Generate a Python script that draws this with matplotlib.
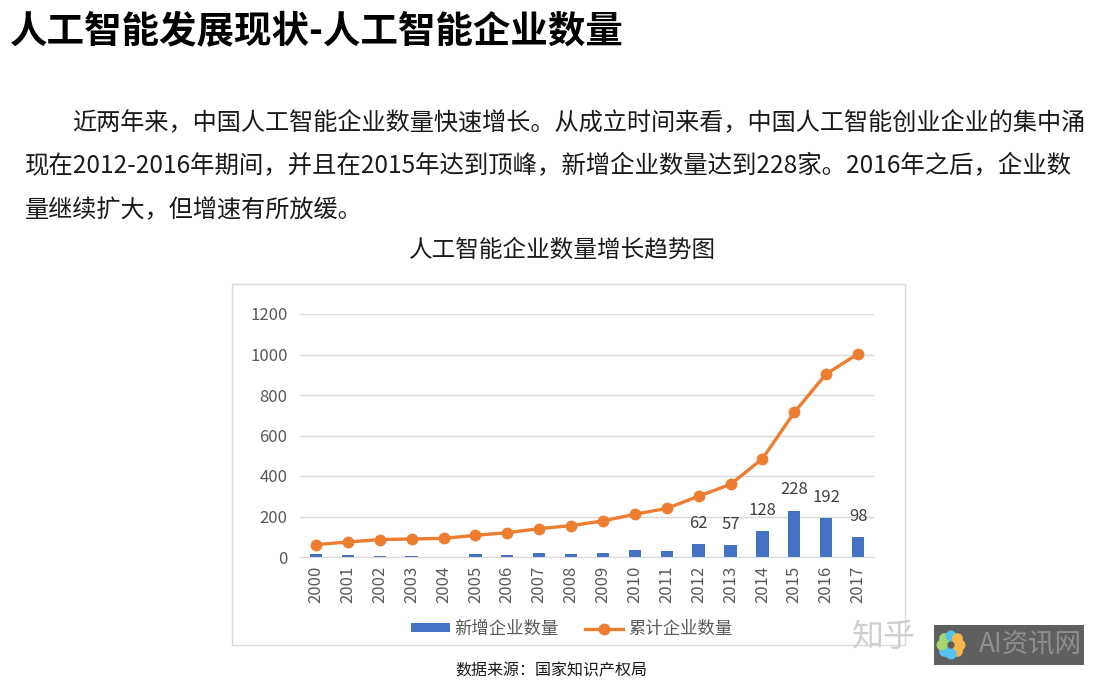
import matplotlib
matplotlib.use("Agg")
import matplotlib.pyplot as plt
from matplotlib.patches import Rectangle, Ellipse
from matplotlib.lines import Line2D
from matplotlib.patches import Patch
import math

plt.rcParams['font.family'] = ['Noto Sans CJK SC', 'DejaVu Sans']

years = ['2000', '2001', '2002', '2003', '2004', '2005', '2006', '2007', '2008',
         '2009', '2010', '2011', '2012', '2013', '2014', '2015', '2016', '2017']
new_companies = [13, 10, 7, 3, 2, 13, 8, 18, 13, 21, 34, 29, 62, 57, 128, 228, 192, 98]
cumulative = [61, 74, 86, 89, 92, 107, 120, 140, 155, 178, 211, 240, 300, 359, 485, 714, 904, 1003]
labeled_years = ['2012', '2013', '2014', '2015', '2016', '2017']
yticks = [0, 200, 400, 600, 800, 1000, 1200]

title = '人工智能发展现状-人工智能企业数量'
para = ['近两年来，中国人工智能企业数量快速增长。从成立时间来看，中国人工智能创业企业的集中涌',
        '现在2012-2016年期间，并且在2015年达到顶峰，新增企业数量达到228家。2016年之后，企业数',
        '量继续扩大，但增速有所放缓。']
chart_title = '人工智能企业数量增长趋势图'
series_names = ['新增企业数量', '累计企业数量']
source = '数据来源：国家知识产权局'

W, H = 1104, 686
fig = plt.figure(figsize=(W / 100, H / 100), dpi=100)
fig.patch.set_facecolor('white')

def fx(x):
    return x / W

def fy(y):
    return 1 - y / H

# heading and paragraph
fig.text(fx(10), fy(32), title, fontsize=27, fontweight='bold', va='center', ha='left', color='#000000')
fig.text(fx(72), fy(123), para[0], fontsize=17.4, va='center', ha='left', color='#1a1a1a')
fig.text(fx(25), fy(166), para[1], fontsize=17.6, va='center', ha='left', color='#1a1a1a')
fig.text(fx(25), fy(210), para[2], fontsize=17.4, va='center', ha='left', color='#1a1a1a')
fig.text(fx(563), fy(250), chart_title, fontsize=17, va='center', ha='center', color='#1a1a1a')

# chart border
fig.patches.append(Rectangle((fx(232), fy(645)), fx(905) - fx(232), fy(284) - fy(645),
                             transform=fig.transFigure, fill=False, edgecolor='#d9d9d9', linewidth=1))

ax = fig.add_axes([fx(300), fy(557), fx(874) - fx(300), fy(314) - fy(557)])
x = list(range(len(years)))
ax.bar(x, new_companies, width=0.39, color='#4472C4', zorder=2, label=series_names[0])
ax.plot(x, cumulative, color='#ED7D31', linewidth=2.4, marker='o', markersize=7.5, zorder=3,
        label=series_names[1])

for i, (yr, v) in enumerate(zip(years, new_companies)):
    if yr in labeled_years:
        ax.annotate(str(v), (i, v), xytext=(0, 9), textcoords='offset points', ha='center', va='bottom',
                    fontsize=12, color='#404040')

ax.set_xlim(-0.5, len(years) - 0.5)
ax.set_ylim(0, 1200)
ax.set_yticks(yticks)
ax.set_yticklabels([str(t) for t in yticks])
ax.set_xticks(x)
ax.set_xticklabels(years, rotation=90)
ax.tick_params(axis='both', length=0, labelsize=12, labelcolor='#595959')
ax.tick_params(axis='y', pad=9)
ax.tick_params(axis='x', pad=6)
ax.grid(axis='y', color='#d9d9d9', linewidth=1, zorder=0)
ax.set_axisbelow(True)
for s in ['top', 'right', 'left']:
    ax.spines[s].set_visible(False)
ax.spines['bottom'].set_color('#d9d9d9')

handles = [Patch(facecolor='#4472C4', edgecolor='none'),
           Line2D([0], [0], color='#ED7D31', linewidth=2.4, marker='o', markersize=7.5)]
leg = fig.legend(handles, series_names, loc='center', bbox_to_anchor=(fx(572), fy(629)), ncol=2,
                 frameon=False, fontsize=12.5, handlelength=2.2, handleheight=0.45, columnspacing=1.5,
                 handletextpad=0.3)
for t in leg.get_texts():
    t.set_color('#595959')

fig.text(fx(551), fy(671), source, fontsize=11.5, va='center', ha='center', color='#1a1a1a')

# watermark
fig.text(fx(884), fy(637), '知乎', fontsize=23, va='center', ha='center', color='#cfcfcf')
fig.patches.append(Rectangle((fx(934), fy(665)), fx(1084) - fx(934), fy(625) - fy(665),
                             transform=fig.transFigure, facecolor='#5f5f5f', edgecolor='none'))
petal_colors = ['#f7b84b', '#f7b84b', '#4fc3f7', '#4fc3f7', '#a5d66d', '#a5d66d', '#4fc3f7', '#f7b84b']
cx, cy = 951, 645
for k, c in enumerate(petal_colors):
    ang = k * math.pi / 4
    px = cx + 9 * math.cos(ang)
    py = cy + 9 * math.sin(ang)
    fig.patches.append(Ellipse((fx(px), fy(py)), fx(11), fx(11) * W / H, transform=fig.transFigure,
                               facecolor=c, edgecolor='none'))
fig.text(fx(1030), fy(645), 'AI资讯网', fontsize=19, va='center', ha='center', color='#8f8f8f')

fig.savefig('out.png', dpi=100, facecolor='white')
